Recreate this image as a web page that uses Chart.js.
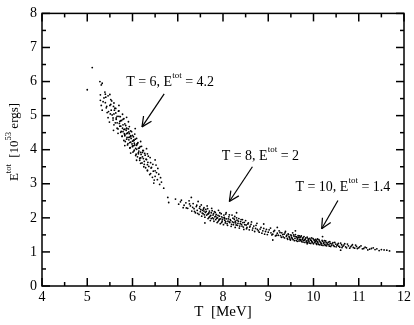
<!DOCTYPE html>
<html>
<head>
<meta charset="utf-8">
<script src="https://cdn.jsdelivr.net/npm/chart.js@4/dist/chart.umd.min.js"></script>
<style>
  html, body { margin: 0; padding: 0; background: #fff; }
  #wrap { width: 414px; height: 325px; }
</style>
</head>
<body>
<div id="wrap"><canvas id="chart"></canvas></div>
<script>
// T = 6 group
const tempLow = [5.00, 5.11, 5.28, 5.31, 5.33,
  5.29, 5.39, 5.29, 5.41, 5.50, 5.31, 5.40, 5.52, 5.42, 5.50, 5.59, 5.33,
  5.44, 5.53, 5.61, 5.70, 5.46, 5.55, 5.63, 5.70, 5.59, 5.57, 5.64, 5.70, 5.78, 5.49,
  5.59, 5.66, 5.72, 5.79, 5.87, 5.74, 5.66, 5.74, 5.79, 5.83, 5.91, 5.58,
  5.68, 5.75, 5.81, 5.87, 5.93, 5.83, 5.77, 5.83, 5.89, 5.92, 5.96, 6.06, 5.87,
  5.81, 5.87, 5.92, 5.96, 6.00, 6.05, 5.94, 5.83, 5.90, 5.96, 6.00, 6.03, 6.09, 6.02,
  5.94, 6.00, 6.05, 6.11, 6.18, 6.03, 5.96, 6.03, 6.09, 6.15, 6.20, 6.13,
  6.07, 6.13, 6.18, 6.24, 6.31, 6.09, 6.16, 6.22, 6.28, 6.33, 6.18, 6.26, 6.31, 6.39,
  6.25, 6.33, 6.40, 6.50, 6.33, 6.42, 6.52, 6.40, 6.50,
  6.50, 6.55, 6.58, 6.60, 6.64, 6.56, 6.78, 6.80,
  5.37, 5.43, 5.46, 5.51, 5.54, 5.57, 5.58, 5.62, 5.63, 5.66, 5.68, 5.69, 5.71, 5.73,
  5.74, 5.76, 5.77, 5.78, 5.81, 5.82, 5.84, 5.85, 5.86, 5.88, 5.89, 5.91, 5.92, 5.93,
  5.95, 5.97, 5.98, 5.99, 6.01, 6.02, 6.04, 6.04, 6.06, 6.08, 6.09, 6.11, 6.12, 6.14,
  6.16, 6.17, 6.19, 6.21, 6.23, 6.24, 6.26, 6.27, 6.29, 6.30, 6.33, 6.34, 6.36, 6.38,
  6.41, 6.44, 6.46, 6.48, 5.72, 5.83, 5.87, 5.94, 5.96, 6.00, 6.03, 6.07, 6.10, 6.13,
  6.18, 6.22, 5.79, 5.64, 5.60, 5.52, 5.47, 5.40, 5.35, 6.35, 6.45, 6.53, 6.62, 6.69, 6.47];
const energyLow = [5.76, 6.41, 6.00, 5.90, 5.95,
  5.61, 5.69, 5.45, 5.54, 5.62, 5.30, 5.38, 5.47, 5.23, 5.30, 5.37, 5.16,
  5.09, 5.16, 5.22, 5.30, 4.94, 5.02, 5.08, 5.14, 5.05, 4.87, 4.93, 4.98, 5.04, 4.81,
  4.73, 4.79, 4.83, 4.89, 4.95, 4.85, 4.63, 4.69, 4.73, 4.76, 4.82, 4.57,
  4.48, 4.54, 4.59, 4.63, 4.68, 4.60, 4.40, 4.44, 4.49, 4.52, 4.55, 4.62, 4.47,
  4.27, 4.31, 4.36, 4.39, 4.42, 4.46, 4.37, 4.12, 4.18, 4.22, 4.25, 4.28, 4.33, 4.27,
  4.05, 4.09, 4.14, 4.18, 4.24, 4.12, 3.90, 3.96, 4.01, 4.05, 4.10, 4.04,
  3.83, 3.88, 3.92, 3.97, 4.03, 3.69, 3.75, 3.79, 3.84, 3.88, 3.60, 3.66, 3.71, 3.77,
  3.50, 3.56, 3.62, 3.70, 3.40, 3.48, 3.55, 3.30, 3.38,
  3.22, 3.12, 3.28, 2.98, 3.05, 3.45, 2.60, 2.45,
  5.52, 5.27, 5.58, 5.05, 5.43, 4.93, 5.27, 4.79, 5.21, 4.98, 4.61, 5.13, 4.77, 4.97,
  4.51, 4.86, 4.39, 4.63, 4.91, 4.47, 4.24, 4.71, 4.57, 4.36, 4.14, 4.61, 4.29, 4.47,
  4.06, 4.33, 4.53, 4.17, 3.93, 4.38, 4.19, 3.99, 4.31, 3.87, 4.13, 3.79, 4.21, 3.96,
  3.69, 4.09, 3.86, 3.61, 3.98, 3.74, 3.57, 3.89, 3.47, 3.72, 3.38, 3.63, 3.51, 3.27,
  3.46, 3.19, 3.37, 3.11, 4.69, 4.41, 4.62, 4.21, 4.41, 4.11, 4.27, 4.04, 4.17, 3.91,
  3.76, 3.92, 4.53, 4.89, 5.16, 5.33, 5.12, 5.63, 5.41, 3.81, 3.57, 3.33, 3.18, 2.87, 3.02];

// T = 8 group
const tempMid = [6.95, 7.02, 7.08, 7.12, 7.18, 7.22, 7.25, 7.28, 7.31, 7.34,
  7.36, 7.39, 7.41, 7.43, 7.45, 7.47, 7.48, 7.50, 7.52, 7.53,
  7.55, 7.56, 7.58, 7.60, 7.61, 7.62, 7.64, 7.65, 7.67, 7.68,
  7.70, 7.71, 7.72, 7.74, 7.75, 7.77, 7.78, 7.80, 7.81, 7.82,
  7.84, 7.85, 7.87, 7.88, 7.90, 7.91, 7.92, 7.94, 7.95, 7.96,
  7.98, 8.00, 8.01, 8.02, 8.04, 8.05, 8.07, 8.08, 8.10, 8.11,
  8.13, 8.15, 8.16, 8.18, 8.20, 8.21, 8.23, 8.25, 8.27, 8.28,
  8.30, 8.32, 8.34, 8.36, 8.38, 8.40, 8.42, 8.44, 8.46, 8.48,
  8.50, 8.53, 8.55, 8.58, 8.60, 8.63, 8.66, 8.70, 8.73, 8.76,
  8.80, 8.84, 8.88, 8.92, 8.96, 9.00, 9.05, 9.08, 9.12, 9.16,
  7.30, 8.30, 8.90, 9.20, 7.60,
  7.06, 7.14, 7.19, 7.26, 7.33, 7.37, 7.42, 7.44, 7.49, 7.51, 7.54, 7.57, 7.59, 7.63,
  7.66, 7.69, 7.69, 7.73, 7.76, 7.79, 7.79, 7.83, 7.86, 7.89, 7.89, 7.93, 7.97, 7.97,
  7.99, 8.03, 8.06, 8.06, 8.09, 8.12, 8.14, 8.17, 8.19, 8.22, 8.24, 8.26, 8.29, 8.31,
  8.33, 8.35, 8.37, 8.39, 8.41, 8.43, 8.45, 8.47, 8.51, 8.52, 8.56, 8.59, 8.62, 8.65,
  8.68, 8.72, 8.75, 8.78, 8.82, 8.86, 8.90, 8.94, 8.98, 9.02, 9.06, 9.10, 9.14, 9.18,
  7.74, 7.84, 7.92, 8.04, 8.14, 8.27, 7.58, 7.66];
const energyMid = [2.55, 2.40, 2.52, 2.30, 2.44, 2.28, 2.50, 2.35, 2.20, 2.42,
  2.27, 2.15, 2.33, 2.22, 2.48, 2.10, 2.28, 2.18, 2.38, 2.05,
  2.22, 2.12, 2.30, 2.02, 2.16, 2.25, 2.08, 2.35, 1.98, 2.12,
  2.20, 2.04, 1.92, 2.15, 2.28, 2.00, 2.08, 1.90, 2.18, 2.03,
  1.95, 2.10, 1.86, 2.00, 2.22, 1.93, 2.05, 1.83, 1.97, 2.12,
  1.90, 2.00, 1.80, 2.08, 1.93, 1.85, 2.15, 1.97, 1.78, 1.90,
  2.03, 1.86, 1.95, 1.75, 2.08, 1.88, 1.80, 1.96, 1.72, 1.85,
  2.00, 1.78, 1.90, 1.70, 1.83, 1.95, 1.76, 1.86, 1.66, 1.80,
  1.92, 1.72, 1.82, 1.65, 1.76, 1.88, 1.70, 1.60, 1.78, 1.66,
  1.58, 1.72, 1.62, 1.52, 1.66, 1.58, 1.70, 1.50, 1.60, 1.47,
  2.60, 2.15, 1.82, 1.72, 1.85,
  2.47, 2.37, 2.29, 2.41, 2.31, 2.19, 2.37, 2.13, 2.33, 2.24, 2.14, 2.26, 2.09, 2.19,
  2.27, 2.01, 2.15, 2.07, 2.21, 1.97, 2.12, 2.16, 1.99, 2.07, 1.89, 2.15, 2.03, 1.86,
  1.95, 2.01, 1.89, 2.11, 1.83, 1.97, 2.09, 1.92, 1.81, 1.99, 1.86, 2.04, 1.79, 1.93,
  1.84, 1.98, 1.76, 1.89, 1.81, 1.95, 1.73, 1.87, 1.79, 1.68, 1.85, 1.73, 1.81, 1.64,
  1.76, 1.69, 1.84, 1.62, 1.67, 1.55, 1.69, 1.60, 1.51, 1.65, 1.56, 1.52, 1.63, 1.49,
  1.98, 2.05, 1.96, 1.98, 1.88, 1.90, 2.20, 2.11];

// T = 10 group
const tempHigh = [9.20, 9.24, 9.27, 9.30, 9.33, 9.35, 9.38, 9.40, 9.42, 9.44,
  9.46, 9.48, 9.50, 9.52, 9.54, 9.55, 9.57, 9.59, 9.60, 9.62,
  9.63, 9.65, 9.66, 9.68, 9.70, 9.71, 9.73, 9.74, 9.76, 9.78,
  9.79, 9.81, 9.82, 9.84, 9.86, 9.87, 9.89, 9.90, 9.92, 9.94,
  9.95, 9.97, 9.99, 10.00, 10.02, 10.03, 10.05, 10.07, 10.08, 10.10,
  10.12, 10.14, 10.15, 10.17, 10.19, 10.21, 10.23, 10.25, 10.27, 10.29,
  10.31, 10.34, 10.36, 10.38, 10.41, 10.44, 10.47, 10.50, 10.53, 10.56,
  10.60, 10.63, 10.67, 10.71, 10.75, 10.80, 10.84, 10.88, 10.93, 10.97,
  11.02, 11.08, 11.14, 11.20, 11.28, 11.36, 11.45, 11.56, 11.68,
  9.60, 10.20, 9.10, 10.60,
  9.22, 9.26, 9.29, 9.32, 9.36, 9.37, 9.41, 9.43, 9.45, 9.47, 9.49, 9.51, 9.53, 9.56,
  9.58, 9.61, 9.64, 9.64, 9.67, 9.69, 9.72, 9.72, 9.75, 9.77, 9.77, 9.80, 9.83, 9.85,
  9.88, 9.88, 9.91, 9.93, 9.96, 9.96, 9.98, 10.01, 10.04, 10.06, 10.06, 10.09, 10.11, 10.13,
  10.16, 10.18, 10.20, 10.22, 10.24, 10.26, 10.28, 10.30, 10.33, 10.35, 10.37, 10.40, 10.43, 10.46,
  10.49, 10.52, 10.55, 10.58, 10.62, 10.65, 10.69, 10.73, 10.77, 10.82, 10.86, 10.91, 10.95, 11.00,
  11.05, 11.11, 11.17, 11.24, 11.32, 11.40, 11.50, 11.62, 9.69, 9.86, 10.09];
const energyHigh = [1.55, 1.62, 1.48, 1.56, 1.44, 1.52, 1.60, 1.46, 1.40, 1.53,
  1.45, 1.38, 1.50, 1.42, 1.56, 1.36, 1.46, 1.40, 1.51, 1.34,
  1.44, 1.38, 1.48, 1.32, 1.42, 1.36, 1.47, 1.30, 1.40, 1.34,
  1.45, 1.28, 1.38, 1.32, 1.43, 1.27, 1.36, 1.30, 1.40, 1.25,
  1.34, 1.29, 1.39, 1.24, 1.33, 1.28, 1.37, 1.22, 1.31, 1.26,
  1.36, 1.21, 1.29, 1.24, 1.34, 1.19, 1.28, 1.22, 1.32, 1.18,
  1.26, 1.21, 1.30, 1.16, 1.24, 1.19, 1.28, 1.15, 1.22, 1.17,
  1.26, 1.13, 1.20, 1.15, 1.23, 1.11, 1.18, 1.13, 1.20, 1.10,
  1.15, 1.09, 1.14, 1.06, 1.10, 1.07, 1.04, 1.06, 1.03,
  1.62, 1.45, 1.35, 1.05,
  1.49, 1.57, 1.43, 1.51, 1.41, 1.56, 1.49, 1.37, 1.51, 1.42, 1.35, 1.47, 1.39, 1.50,
  1.33, 1.45, 1.41, 1.31, 1.43, 1.37, 1.33, 1.44, 1.36, 1.29, 1.42, 1.35, 1.41, 1.29,
  1.39, 1.33, 1.26, 1.35, 1.31, 1.41, 1.27, 1.36, 1.31, 1.25, 1.34, 1.29, 1.22, 1.32,
  1.27, 1.20, 1.31, 1.25, 1.33, 1.19, 1.27, 1.22, 1.29, 1.17, 1.25, 1.20, 1.27, 1.16,
  1.23, 1.19, 1.25, 1.14, 1.21, 1.17, 1.24, 1.12, 1.18, 1.15, 1.21, 1.11, 1.16, 1.12,
  1.18, 1.10, 1.12, 1.08, 1.12, 1.09, 1.07, 1.05, 1.47, 1.24, 1.38];

const xTicks = [4, 5, 6, 7, 8, 9, 10, 11, 12];
const yTicks = [0, 1, 2, 3, 4, 5, 6, 7, 8];

const notes = [
  { label: 'T = 6, E', value: ' = 4.2', textAt: [5.86, 5.87], from: [6.70, 5.64], to: [6.21, 4.67] },
  { label: 'T = 8, E', value: ' = 2', textAt: [7.97, 3.70], from: [8.65, 3.50], to: [8.14, 2.48] },
  { label: 'T = 10, E', value: ' = 1.4', textAt: [9.60, 2.79], from: [10.54, 2.51], to: [10.18, 1.68] },
];

const serif = '"Liberation Serif", "DejaVu Serif", serif';

function pairs(xs, ys) {
  return xs.map((x, i) => ({ x: x, y: ys[i] }));
}

function line(ctx, x1, y1, x2, y2) {
  ctx.beginPath();
  ctx.moveTo(x1, y1);
  ctx.lineTo(x2, y2);
  ctx.stroke();
}

// box, inward ticks on all four sides, titles and arrows
const decorations = {
  id: 'decorations',
  afterDraw(chart) {
    const { ctx, chartArea: a, scales: { x, y } } = chart;
    ctx.save();
    ctx.strokeStyle = '#000';
    ctx.fillStyle = '#000';
    ctx.lineWidth = 1.5;
    ctx.strokeRect(a.left, a.top, a.right - a.left, a.bottom - a.top);

    for (let v = 4; v <= 12; v += 0.5) {
      const px = x.getPixelForValue(v);
      const len = v % 1 === 0 ? 8 : 4;
      line(ctx, px, a.bottom, px, a.bottom - len);
      line(ctx, px, a.top, px, a.top + len);
    }
    for (let v = 0; v <= 8; v += 0.5) {
      const py = y.getPixelForValue(v);
      const len = v % 1 === 0 ? 8 : 4;
      line(ctx, a.left, py, a.left + len, py);
      line(ctx, a.right, py, a.right - len, py);
    }

    // x title
    ctx.font = '15px ' + serif;
    ctx.textAlign = 'center';
    ctx.textBaseline = 'alphabetic';
    ctx.fillText('T  [MeV]', (a.left + a.right) / 2, 316);

    // y title with superscripts
    ctx.save();
    ctx.translate(18, 142);
    ctx.rotate(-Math.PI / 2);
    ctx.textAlign = 'left';
    const parts = [['E', 13, 0], ['tot', 8.5, -7], ['  [10', 13, 0], ['53', 8.5, -7], [' ergs]', 13, 0]];
    let total = 0;
    parts.forEach(([t, s]) => { ctx.font = s + 'px ' + serif; total += ctx.measureText(t).width; });
    let cx = -total / 2;
    parts.forEach(([t, s, dy]) => {
      ctx.font = s + 'px ' + serif;
      ctx.fillText(t, cx, dy);
      cx += ctx.measureText(t).width;
    });
    ctx.restore();

    // annotations
    ctx.lineWidth = 1.2;
    notes.forEach((n) => {
      let tx = x.getPixelForValue(n.textAt[0]);
      const ty = y.getPixelForValue(n.textAt[1]);
      ctx.textAlign = 'left';
      ctx.font = '14px ' + serif;
      ctx.fillText(n.label, tx, ty);
      tx += ctx.measureText(n.label).width;
      ctx.font = '9px ' + serif;
      ctx.fillText('tot', tx, ty - 8);
      tx += ctx.measureText('tot').width;
      ctx.font = '14px ' + serif;
      ctx.fillText(n.value, tx, ty);

      const x1 = x.getPixelForValue(n.from[0]);
      const y1 = y.getPixelForValue(n.from[1]);
      const x2 = x.getPixelForValue(n.to[0]);
      const y2 = y.getPixelForValue(n.to[1]);
      line(ctx, x1, y1, x2, y2);
      const ang = Math.atan2(y1 - y2, x1 - x2);
      const head = 11;
      [0.45, -0.45].forEach((d) => {
        line(ctx, x2, y2, x2 + head * Math.cos(ang + d), y2 + head * Math.sin(ang + d));
      });
    });
    ctx.restore();
  },
};

const pointStyle = {
  backgroundColor: '#000',
  borderWidth: 0,
  pointRadius: 0.9,
  pointHoverRadius: 0.9,
};

new Chart(document.getElementById('chart'), {
  type: 'scatter',
  data: {
    datasets: [
      { data: pairs(tempLow, energyLow), ...pointStyle },
      { data: pairs(tempMid, energyMid), ...pointStyle },
      { data: pairs(tempHigh, energyHigh), ...pointStyle },
    ],
  },
  options: {
    responsive: true,
    maintainAspectRatio: false,
    animation: false,
    events: [],
    layout: { padding: { left: 0, right: 7, top: 5, bottom: 0 } },
    plugins: { legend: { display: false }, tooltip: { enabled: false } },
    scales: {
      x: {
        type: 'linear',
        min: 4,
        max: 12,
        afterBuildTicks: (scale) => { scale.ticks = xTicks.map((v) => ({ value: v })); },
        afterFit: (scale) => { scale.height = 39; },
        grid: { display: false, drawTicks: false },
        border: { display: false },
        ticks: { color: '#000', font: { family: serif, size: 14 }, padding: 3, maxRotation: 0 },
      },
      y: {
        type: 'linear',
        min: 0,
        max: 8,
        afterBuildTicks: (scale) => { scale.ticks = yTicks.map((v) => ({ value: v })); },
        afterFit: (scale) => { scale.width = 42; },
        grid: { display: false, drawTicks: false },
        border: { display: false },
        ticks: { color: '#000', font: { family: serif, size: 14 }, padding: 5 },
      },
    },
  },
  plugins: [decorations],
});
</script>
</body>
</html>
